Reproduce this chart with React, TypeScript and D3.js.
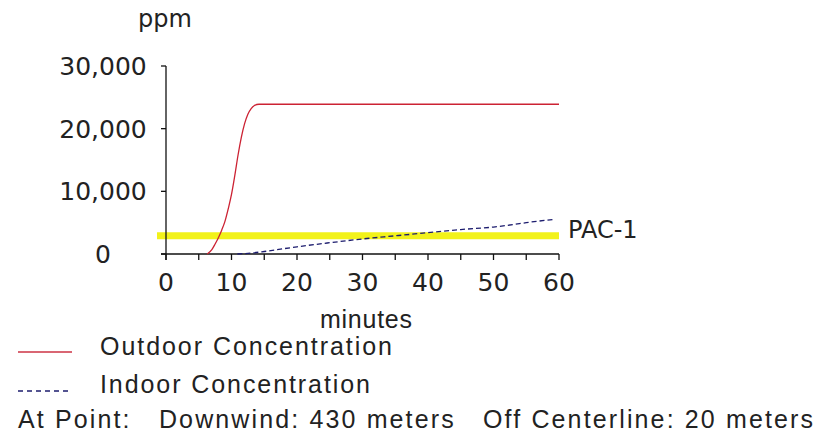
import * as d3 from "d3";

// chart values
const outdoorMin = [6.3, 7, 7.5, 8, 8.5, 9, 9.5, 10, 10.5, 11, 11.5, 12, 12.5, 13, 13.5, 14.2, 20, 30, 40, 50, 60];
const outdoorPpm = [0, 700, 1600, 2600, 3800, 5200, 7200, 9500, 12500, 15800, 18600, 20800, 22300, 23200, 23700, 23900, 23900, 23900, 23900, 23900, 23900];
const indoorMin = [10.9, 13, 15, 20, 25, 30, 35, 40, 45, 50, 53, 55, 59];
const indoorPpm = [0, 150, 400, 1150, 1800, 2400, 2900, 3400, 3900, 4300, 4700, 5000, 5500];
const pacLevel = 2900;
const pacLabel = "PAC-1";
const yTicks = [0, 10000, 20000, 30000];
const xTicks = [0, 5, 10, 15, 20, 25, 30, 35, 40, 45, 50, 55, 60];
const xLabels = [0, 10, 20, 30, 40, 50, 60];
const legendItems = ["Outdoor Concentration", "Indoor Concentration"];
const footer = "At Point:   Downwind: 430 meters   Off Centerline: 20 meters";

const W = 819;
const H = 433;
const axisFont = "'DejaVu Sans', Verdana, sans-serif";
const textFont = "'Liberation Sans', Arial, sans-serif";

export default function App() {
  const x = d3.scaleLinear().domain([0, 60]).range([166, 559]);
  const y = d3.scaleLinear().domain([0, 30000]).range([254, 66]);

  const line = d3
    .line<[number, number]>()
    .x((d) => x(d[0]))
    .y((d) => y(d[1]))
    .curve(d3.curveMonotoneX);

  const outdoor = outdoorMin.map((m, i) => [m, outdoorPpm[i]] as [number, number]);
  const indoor = indoorMin.map((m, i) => [m, indoorPpm[i]] as [number, number]);

  return (
    <svg
      width={W}
      height={H}
      style={{ position: "absolute", left: 0, top: 0, background: "#fff" }}
    >
      {/* PAC-1 threshold */}
      <line x1={x(0) - 9} x2={x(60)} y1={y(pacLevel)} y2={y(pacLevel)} stroke="#f2f21a" strokeWidth={7} />
      <text x={x(60) + 9} y={238} fontFamily={axisFont} fontSize={24} fill="#222">
        {pacLabel}
      </text>

      {/* axes */}
      <g stroke="#111" strokeWidth={1.3}>
        <line x1={x(0)} x2={x(0)} y1={y(30000)} y2={y(0) + 6} />
        <line x1={x(0) - 5} x2={x(60)} y1={y(0)} y2={y(0)} />
        {yTicks.map((t) => (
          <line key={t} x1={x(0) - 5} x2={x(0)} y1={y(t)} y2={y(t)} />
        ))}
        {xTicks.map((t) => (
          <line key={t} x1={x(t)} x2={x(t)} y1={y(0)} y2={y(0) + 6} />
        ))}
      </g>
      {yTicks.map((t) => (
        <text key={t} x={103} y={y(t)} dy="0.36em" textAnchor="middle" fontFamily={axisFont} fontSize={25} fill="#222">
          {d3.format(",")(t)}
        </text>
      ))}
      {xLabels.map((t) => (
        <text key={t} x={x(t)} y={291} textAnchor="middle" fontFamily={axisFont} fontSize={25} fill="#222">
          {t}
        </text>
      ))}
      <text x={165} y={27} textAnchor="middle" fontFamily={axisFont} fontSize={24} fill="#222">
        ppm
      </text>
      <text x={366} y={328} textAnchor="middle" fontFamily={textFont} fontSize={25} fill="#222" textLength={92} lengthAdjust="spacing">
        minutes
      </text>

      {/* series */}
      <path d={line(indoor) ?? ""} fill="none" stroke="#1c1c6e" strokeWidth={1.3} strokeDasharray="5,3" />
      <path d={line(outdoor) ?? ""} fill="none" stroke="#cc2233" strokeWidth={1.3} />

      {/* legend */}
      <line x1={18} x2={72} y1={352} y2={352} stroke="#cc3344" strokeWidth={1.5} />
      <text x={100} y={355} fontFamily={textFont} fontSize={25} fill="#222" textLength={292} lengthAdjust="spacing">
        {legendItems[0]}
      </text>
      <line x1={18} x2={72} y1={391} y2={391} stroke="#1c1c6e" strokeWidth={1.5} strokeDasharray="5,4" />
      <text x={100} y={393} fontFamily={textFont} fontSize={25} fill="#222" textLength={270} lengthAdjust="spacing">
        {legendItems[1]}
      </text>
      <text x={18} y={428} fontFamily={textFont} fontSize={25} fill="#222" textLength={795} lengthAdjust="spacing" xmlSpace="preserve">
        {footer}
      </text>
    </svg>
  );
}
